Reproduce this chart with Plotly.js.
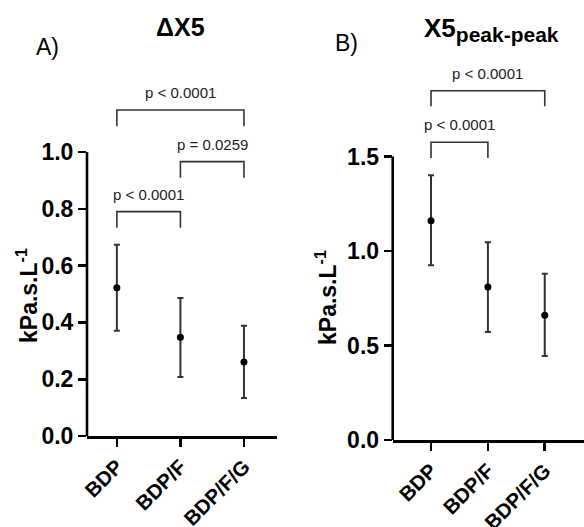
<!DOCTYPE html>
<html>
<head>
<meta charset="utf-8">
<script src="https://cdn.plot.ly/plotly-3.0.1.min.js"></script>
<style>html,body{margin:0;padding:0;background:#fff;}#chart{width:584px;height:527px;}</style>
</head>
<body>
<div id="chart"></div>
<script>
// ---- data ----
const categories = ['BDP', 'BDP/F', 'BDP/F/G'];
const meanA  = [0.522, 0.348, 0.261];
const upperA = [0.673, 0.486, 0.388];
const lowerA = [0.371, 0.208, 0.134];
const meanB  = [1.160, 0.810, 0.660];
const upperB = [1.400, 1.046, 0.880];
const lowerB = [0.924, 0.571, 0.444];
const pairsA = [[0, 1], [1, 2], [0, 2]];
const pTextA = ['p < 0.0001', 'p = 0.0259', 'p < 0.0001'];
const levelA = [0.790, 0.966, 1.148];
const pairsB = [[0, 1], [0, 2]];
const pTextB = ['p < 0.0001', 'p < 0.0001'];
const levelB = [1.575, 1.848];
const yTicksA = [0, 0.2, 0.4, 0.6, 0.8, 1.0];
const yTicksB = [0, 0.5, 1.0, 1.5];

// ---- styling ----
const FONT = 'Arial, "Liberation Sans", sans-serif';
const W = 584, H = 527;
const xs = categories.map((c, i) => i);
const domXA = [87 / W, 277 / W];
const domYA = [(H - 436) / H, (H - 95.2) / H];
const domXB = [392.7 / W, 1.0];
const domYB = [(H - 440) / H, (H - 71.4) / H];

function pointTrace(mean, up, lo, xa, ya) {
  return {
    x: xs, y: mean, xaxis: xa, yaxis: ya, type: 'scatter', mode: 'markers',
    marker: {color: '#000', size: 7},
    error_y: {type: 'data', symmetric: false,
      array: up.map((u, i) => u - mean[i]),
      arrayminus: lo.map((l, i) => mean[i] - l),
      color: '#333', thickness: 2, width: 3},
    cliponaxis: false, hoverinfo: 'skip'
  };
}

const shapes = [];
const annotations = [];
function brackets(pairs, texts, levels, leg, xr, yr) {
  pairs.forEach((p, i) => {
    const y = levels[i];
    shapes.push({type: 'path', xref: xr, yref: yr,
      path: `M ${p[0]},${y - leg} L ${p[0]},${y} L ${p[1]},${y} L ${p[1]},${y - leg}`,
      line: {color: '#333', width: 1.6}});
    annotations.push({xref: xr, yref: yr, x: (p[0] + p[1]) / 2, y: y, text: texts[i],
      showarrow: false, xanchor: 'center', yanchor: 'bottom', yshift: 7,
      font: {family: FONT, size: 15, color: '#222'}});
  });
}
brackets(pairsA, pTextA, levelA, 0.057, 'x', 'y');
brackets(pairsB, pTextB, levelB, 0.083, 'x2', 'y2');

// y axis lines stopping at the last tick
shapes.push({type: 'line', xref: 'paper', yref: 'y', x0: domXA[0], x1: domXA[0], y0: 0, y1: yTicksA[yTicksA.length - 1], line: {color: '#000', width: 2.6}});
shapes.push({type: 'line', xref: 'paper', yref: 'y2', x0: domXB[0], x1: domXB[0], y0: 0, y1: yTicksB[yTicksB.length - 1], line: {color: '#000', width: 2.6}});

function label(x, y, text, size, bold, angle) {
  annotations.push({xref: 'paper', yref: 'paper', x: x / W, y: 1 - y / H, text: text, showarrow: false,
    xanchor: 'center', yanchor: 'middle', textangle: angle || 0,
    font: {family: FONT, size: size, color: '#000', weight: bold ? 'bold' : 'normal'}});
}
label(180, 27, 'ΔX5', 25, true);
label(491, 30, 'X5<sub><span style="font-size:21px">peak-peak</span></sub>', 26, true);
label(47, 47, 'A)', 23, false);
label(346, 43, 'B)', 23, false);
label(27, 296, 'kPa.s.L<sup>-1</sup>', 23, true, -90);
label(326, 298, 'kPa.s.L<sup>-1</sup>', 23, true, -90);

const xCommon = {
  tickvals: xs, ticktext: categories, showline: true, linewidth: 2.6, linecolor: '#000',
  ticks: 'outside', ticklen: 8, tickwidth: 2.6, tickcolor: '#000', tickangle: -45,
  showgrid: false, zeroline: false, fixedrange: true,
  tickfont: {family: FONT, size: 20.5, color: '#000', weight: 'bold'}
};
const yCommon = {
  showline: false, ticks: 'outside', ticklen: 8, tickwidth: 2.6, tickcolor: '#000',
  showgrid: false, zeroline: false, tickformat: '.1f', fixedrange: true,
  tickfont: {family: FONT, size: 23, color: '#000', weight: 'bold'}
};

const layout = {
  width: W, height: H, margin: {l: 0, r: 0, t: 0, b: 0},
  paper_bgcolor: '#fff', plot_bgcolor: 'rgba(0,0,0,0)', showlegend: false,
  xaxis: Object.assign({}, xCommon, {domain: domXA, range: [-0.47, 2.52], anchor: 'y'}),
  yaxis: Object.assign({}, yCommon, {domain: domYA, range: [0, 1.2], tickvals: yTicksA, anchor: 'x'}),
  xaxis2: Object.assign({}, xCommon, {domain: domXB, range: [-0.674, 2.69], anchor: 'y2'}),
  yaxis2: Object.assign({}, yCommon, {domain: domYB, range: [0, 1.95], tickvals: yTicksB, anchor: 'x2'}),
  shapes: shapes, annotations: annotations
};

Plotly.newPlot('chart', [
  pointTrace(meanA, upperA, lowerA, 'x', 'y'),
  pointTrace(meanB, upperB, lowerB, 'x2', 'y2')
], layout, {staticPlot: true});
</script>
</body>
</html>
